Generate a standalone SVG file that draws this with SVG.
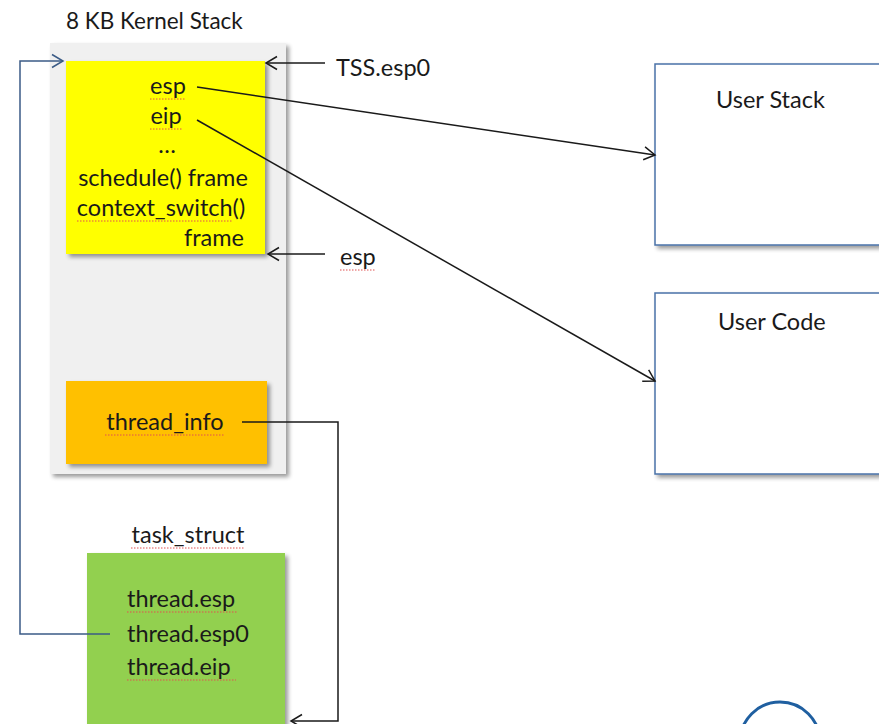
<svg xmlns="http://www.w3.org/2000/svg" width="879" height="724" viewBox="0 0 879 724">
<style>
text{font-family:Lato,"Open Sans","Liberation Sans",sans-serif;font-size:23.5px;fill:#1a1a1a}
.t{font-size:22.5px}
.ln{fill:none;stroke:#1a1a1a;stroke-width:1.5}
.bl{fill:none;stroke:#3b5b86;stroke-width:1.5}
.sq{fill:none;stroke:#e05050;stroke-width:1;stroke-dasharray:1.5 1.5}
.ub{fill:#fff;stroke:#4a72a8;stroke-width:1.5}
</style>
<defs>
<filter id="sh" x="-10%" y="-10%" width="130%" height="130%">
<feGaussianBlur in="SourceAlpha" stdDeviation="2"/>
<feOffset dx="3" dy="3" result="b"/>
<feComponentTransfer><feFuncA type="linear" slope="0.4"/></feComponentTransfer>
<feMerge><feMergeNode/><feMergeNode in="SourceGraphic"/></feMerge>
</filter>
<marker id="ah" markerWidth="16" markerHeight="16" refX="13" refY="8" orient="auto" markerUnits="userSpaceOnUse">
<path d="M2,1.5 L13,8 L2,14.5" fill="none" stroke="#1a1a1a" stroke-width="1.5"/>
</marker>
<marker id="ahb" markerWidth="16" markerHeight="16" refX="13" refY="8" orient="auto" markerUnits="userSpaceOnUse">
<path d="M2,1.5 L13,8 L2,14.5" fill="none" stroke="#3b5b86" stroke-width="1.5"/>
</marker>
</defs>
<rect width="879" height="724" fill="#fff"/>

<g id="kernel-stack">
<text class="t" x="66" y="29">8 KB Kernel Stack</text>
<rect x="50" y="43" width="236" height="431" fill="#f0f0f0" filter="url(#sh)"/>
</g>

<g id="stack-frame">
<rect x="66" y="61" width="199" height="193" fill="#ffff00" filter="url(#sh)"/>
<text x="168" y="94" text-anchor="middle">esp</text>
<path class="sq" d="M150,99 H185"/>
<text x="166" y="124" text-anchor="middle">eip</text>
<path class="sq" d="M150,129 H182"/>
<text x="167" y="153" text-anchor="middle">…</text>
<text x="163" y="186" text-anchor="middle">schedule() frame</text>
<text x="161" y="216" text-anchor="middle">context_switch()</text>
<path class="sq" d="M77,221 H232"/>
<text x="244" y="246" text-anchor="end">frame</text>
</g>

<g id="thread-info">
<rect x="66" y="381" width="201" height="83" fill="#ffc000" filter="url(#sh)"/>
<text x="165" y="430" text-anchor="middle">thread_info</text>
<path class="sq" d="M105,435 H224"/>
</g>

<g id="task-struct">
<text x="188" y="543" text-anchor="middle">task_struct</text>
<path class="sq" d="M131,548 H245"/>
<rect x="87" y="553" width="198" height="180" fill="#92d050" filter="url(#sh)"/>
<text x="127" y="607">thread.esp</text>
<path class="sq" d="M127,612 H238"/>
<text x="127" y="642">thread.esp0</text>
<text x="127" y="675">thread.eip</text>
<path class="sq" d="M127,680 H236"/>
</g>

<g id="labels">
<text x="336" y="76">TSS.esp0</text>
<text x="340" y="265">esp</text>
<path class="sq" d="M340,270 H376"/>
</g>

<g id="user-stack">
<rect x="655" y="64" width="240" height="181" class="ub" filter="url(#sh)"/>
<text x="716" y="108">User Stack</text>
</g>

<g id="user-code">
<rect x="655" y="293" width="240" height="181" class="ub" filter="url(#sh)"/>
<text x="718" y="330">User Code</text>
</g>

<g id="circle">
<circle cx="780" cy="742" r="40" fill="none" stroke="#1f5fa0" stroke-width="3"/>
</g>

<g id="connectors">
<path class="ln" d="M325,63 H266" marker-end="url(#ah)"/>
<path class="ln" d="M325,254 H268" marker-end="url(#ah)"/>
<path class="ln" d="M197,87 L655,155" marker-end="url(#ah)"/>
<path class="ln" d="M197,120 L655,381" marker-end="url(#ah)"/>
<path class="ln" d="M242,422 H338 V721 H304 L291,721" marker-end="url(#ah)"/>
<path class="bl" d="M110,634 H20 V61 H63" marker-end="url(#ahb)"/>
</g>
</svg>
